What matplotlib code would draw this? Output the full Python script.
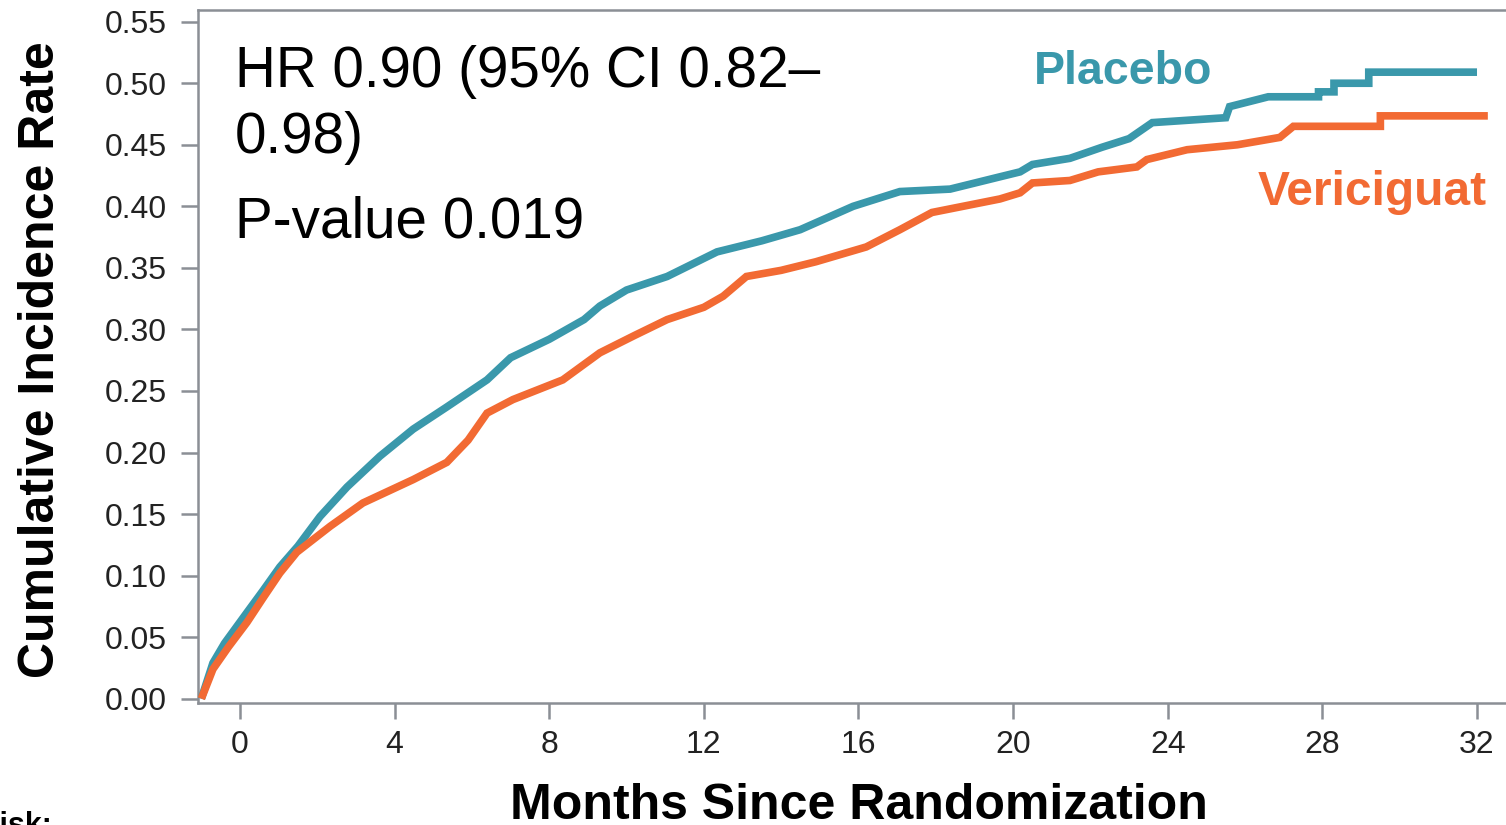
import matplotlib
matplotlib.use("Agg")
import matplotlib.pyplot as plt

# ---------------- data ----------------
placebo_months = [-1.0, -0.7, -0.4, 0.18, 0.6, 1.03, 1.5, 2.07, 2.77, 3.62, 4.48, 5.35,
                  6.39, 7.0, 8.0, 8.9, 9.31, 10.0, 11.05, 12.34, 13.5, 14.49, 15.86,
                  17.07, 18.37, 19.66, 20.18, 20.5, 21.47, 22.3, 23.0, 23.6, 25.5, 25.6,
                  26.6, 27.9, 27.9, 28.3, 28.3, 29.2, 29.2, 32.0]
placebo_rate = [0.000, 0.029, 0.045, 0.070, 0.088, 0.107, 0.124, 0.148, 0.172, 0.197, 0.219, 0.237,
                0.259, 0.277, 0.292, 0.308, 0.319, 0.332, 0.343, 0.363, 0.372, 0.381, 0.400,
                0.412, 0.414, 0.424, 0.428, 0.434, 0.439, 0.448, 0.455, 0.468, 0.472, 0.481,
                0.489, 0.489, 0.493, 0.493, 0.500, 0.500, 0.509, 0.509]

vericiguat_months = [-1.0, -0.7, -0.3, 0.18, 0.6, 1.03, 1.47, 2.33, 3.18, 4.48, 5.35, 5.9,
                     6.39, 7.06, 8.35, 9.31, 10.2, 11.05, 12.0, 12.5, 13.1, 14.0, 14.9, 16.2,
                     17.07, 17.9, 19.66, 20.18, 20.5, 21.47, 22.2, 23.2, 23.46, 24.5, 25.8,
                     26.9, 27.25, 29.5, 29.5, 32.28]
vericiguat_rate = [0.000, 0.024, 0.042, 0.062, 0.082, 0.102, 0.119, 0.140, 0.159, 0.178, 0.192, 0.210,
                   0.232, 0.243, 0.259, 0.281, 0.295, 0.308, 0.318, 0.327, 0.343, 0.348, 0.355, 0.367,
                   0.381, 0.395, 0.406, 0.411, 0.419, 0.421, 0.428, 0.432, 0.438, 0.446, 0.450,
                   0.456, 0.465, 0.465, 0.4735, 0.4735]

x_ticks = [0, 4, 8, 12, 16, 20, 24, 28, 32]
y_ticks = [0.00, 0.05, 0.10, 0.15, 0.20, 0.25, 0.30, 0.35, 0.40, 0.45, 0.50, 0.55]
y_tick_labels = ["0.00", "0.05", "0.10", "0.15", "0.20", "0.25", "0.30", "0.35",
                 "0.40", "0.45", "0.50", "0.55"]

# ---------------- styling ----------------
BLUE = "#3a98ab"
ORANGE = "#f26a33"
GRAY = "#8b8f95"
FONT = "Liberation Sans"
plt.rcParams["font.family"] = [FONT, "DejaVu Sans"]

W, H = 1506, 825
fig = plt.figure(figsize=(W / 100, H / 100), dpi=100)
fig.patch.set_facecolor("white")

left, right = 197.7 / W, 1.0
bottom, top = (H - 703) / H, (H - 10) / H
ax = fig.add_axes([left, bottom, right - left, top - bottom])

ax.plot(placebo_months, placebo_rate, color=BLUE, lw=5.5, solid_joinstyle="miter",
        solid_capstyle="butt", zorder=3)
ax.plot(vericiguat_months, vericiguat_rate, color=ORANGE, lw=5.5, solid_joinstyle="miter",
        solid_capstyle="butt", zorder=4)

ax.set_xlim(-1.094, 32.75)
ax.set_ylim(-0.0035, 0.5595)

ax.set_xticks(x_ticks)
ax.set_xticklabels([str(v) for v in x_ticks])
ax.set_yticks(y_ticks)
ax.set_yticklabels(y_tick_labels)

for side in ["left", "bottom", "top"]:
    ax.spines[side].set_color(GRAY)
    ax.spines[side].set_linewidth(1.8)
ax.spines["right"].set_visible(False)

ax.tick_params(axis="y", length=12, width=1.8, color=GRAY, pad=10,
               labelsize=23, labelcolor="#222222")
ax.tick_params(axis="x", length=11.5, width=1.8, color=GRAY, pad=8,
               labelsize=23, labelcolor="#222222")

# axis titles
fig.text(41 / W, 1 - 360 / H, "Cumulative Incidence Rate", rotation=90,
         ha="center", va="center", fontsize=36, fontweight="bold", color="black")
fig.text(859 / W, 1 - 819 / H, "Months Since Randomization", ha="center",
         va="baseline", fontsize=36, fontweight="bold", color="black")

# annotations
fig.text(235 / W, 1 - 87 / H, "HR 0.90 (95% CI 0.82\u2013", ha="left", va="baseline",
         fontsize=40.8, color="black")
fig.text(235 / W, 1 - 153 / H, "0.98)", ha="left", va="baseline",
         fontsize=40.8, color="black")
fig.text(235 / W, 1 - 237 / H, "P-value 0.019", ha="left", va="baseline",
         fontsize=40.8, color="black")

fig.text(1123 / W, 1 - 84 / H, "Placebo", ha="center", va="baseline",
         fontsize=33.5, fontweight="bold", color=BLUE)
fig.text(1372 / W, 1 - 205 / H, "Vericiguat", ha="center", va="baseline",
         fontsize=34.5, fontweight="bold", color=ORANGE)

# cut-off text at bottom left of the original slide
fig.text(52 / W, -9 / H, "At risk:", ha="right", va="baseline", fontsize=22,
         fontweight="bold", color="black")

fig.savefig("out.png", dpi=100, facecolor="white")
